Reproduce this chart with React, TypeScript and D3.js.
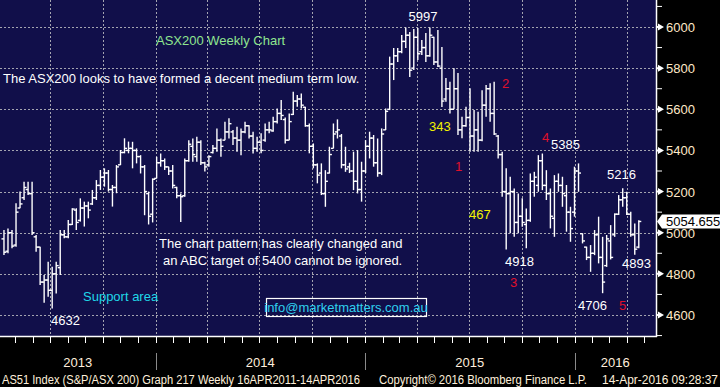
import * as d3 from "d3";

// weekly bars, week ending Friday, first week ends 5 Apr 2013
const firstWeekEnd = new Date(2013, 3, 5);

const opens = [
  4970, 4910, 5000, 4940, 5120, 5170, 5210, 5190, 4980, 4930, 4760, 4770, 4720, 4800, 4830, 4990, 4980, 5040, 5110, 5060,
  5120, 5130, 5140, 5170, 5230, 5270, 5290, 5210, 5220, 5330, 5390, 5400, 5410, 5400, 5370, 5320, 5190, 5090, 5264, 5340,
  5350, 5320, 5300, 5220, 5180, 5180, 5350, 5420, 5370, 5440, 5340, 5330, 5390, 5410, 5450, 5450, 5490, 5490, 5460, 5450,
  5490, 5520, 5470, 5410, 5440, 5450, 5500, 5495, 5540, 5580, 5550, 5450, 5575, 5640, 5650, 5610, 5520, 5420, 5330, 5290,
  5190, 5290, 5410, 5490, 5470, 5330, 5320, 5300, 5250, 5210, 5300, 5420, 5460, 5340, 5290, 5500, 5600, 5820, 5860, 5880,
  5930, 5960, 5800, 5950, 5880, 5900, 5860, 5950, 5830, 5800, 5650, 5700, 5600, 5700, 5500, 5520, 5560, 5470, 5500, 5450,
  5620, 5700, 5580, 5470, 5380, 5200, 5190, 5200, 5050, 5080, 5040, 5060, 5250, 5230, 5350, 5230, 5190, 5070, 5250, 5230,
  5180, 5100, 5100, 5300, 4995, 4930, 4880, 4900, 4990, 4880, 4840, 4960, 4990, 5090, 5160, 5170, 5090, 4990, 4930,
];
const highs = [
  5013, 5021, 5013, 5143, 5200, 5248, 5248, 5248, 4989, 4932, 4795, 4859, 4835, 4859, 5013, 5013, 5062, 5119, 5119, 5167,
  5151, 5151, 5208, 5256, 5305, 5313, 5305, 5232, 5329, 5402, 5459, 5443, 5442, 5410, 5377, 5329, 5200, 5264, 5369, 5385,
  5361, 5321, 5329, 5223, 5191, 5361, 5450, 5458, 5466, 5450, 5345, 5377, 5426, 5507, 5458, 5539, 5556, 5499, 5515, 5507,
  5539, 5523, 5491, 5466, 5483, 5531, 5539, 5564, 5604, 5645, 5560, 5580, 5685, 5669, 5677, 5612, 5531, 5434, 5337, 5337,
  5304, 5418, 5531, 5551, 5480, 5418, 5340, 5394, 5402, 5345, 5450, 5491, 5475, 5458, 5507, 5604, 5856, 5898, 5898, 5961,
  5997, 5976, 5990, 5995, 5937, 5971, 5997, 5953, 5985, 5903, 5752, 5734, 5800, 5776, 5564, 5612, 5702, 5596, 5588, 5693,
  5718, 5726, 5734, 5475, 5394, 5313, 5272, 5215, 5191, 5167, 5118, 5288, 5296, 5377, 5385, 5304, 5215, 5280, 5288, 5272,
  5232, 5126, 5321, 5337, 4997, 4932, 4940, 5013, 5078, 4980, 4989, 5037, 5094, 5183, 5216, 5199, 5102, 5045, 5061,
];
const lows = [
  4892, 4900, 4924, 4932, 5119, 5159, 5183, 4989, 4908, 4746, 4660, 4689, 4632, 4705, 4795, 4973, 4973, 5038, 5013, 5054,
  5030, 5070, 5135, 5159, 5208, 5224, 5200, 5127, 5192, 5329, 5386, 5386, 5313, 5337, 5288, 5085, 5040, 5050, 5264, 5321,
  5305, 5280, 5215, 5167, 5052, 5175, 5345, 5345, 5345, 5329, 5297, 5321, 5385, 5394, 5369, 5450, 5458, 5426, 5394, 5377,
  5483, 5458, 5385, 5394, 5386, 5442, 5483, 5491, 5531, 5548, 5434, 5450, 5572, 5612, 5604, 5515, 5386, 5313, 5240, 5183,
  5126, 5288, 5410, 5458, 5313, 5296, 5290, 5207, 5191, 5151, 5290, 5361, 5321, 5272, 5280, 5499, 5596, 5742, 5830, 5873,
  5898, 5757, 5791, 5840, 5864, 5830, 5855, 5815, 5805, 5611, 5637, 5580, 5600, 5475, 5459, 5515, 5394, 5394, 5394, 5445,
  5564, 5540, 5475, 5361, 5175, 4918, 4997, 4980, 4997, 5029, 4924, 5053, 5175, 5199, 5207, 5159, 5021, 4980, 5199, 5126,
  5005, 4956, 5078, 5199, 4948, 4867, 4810, 4891, 4851, 4706, 4834, 4870, 4980, 5086, 5126, 5086, 4980, 4893, 4925,
];
const closes = [
  4905, 5000, 4935, 5100, 5140, 5220, 5190, 5000, 4930, 4760, 4770, 4720, 4800, 4840, 4990, 4980, 5040, 5115, 5050, 5120,
  5130, 5110, 5170, 5230, 5270, 5290, 5210, 5220, 5320, 5390, 5410, 5410, 5400, 5370, 5320, 5200, 5080, 5260, 5340, 5350,
  5320, 5300, 5230, 5180, 5175, 5350, 5430, 5380, 5440, 5340, 5320, 5370, 5410, 5450, 5420, 5490, 5530, 5460, 5450, 5490,
  5520, 5470, 5410, 5440, 5400, 5500, 5500, 5540, 5580, 5570, 5450, 5540, 5640, 5650, 5620, 5520, 5420, 5330, 5280, 5190,
  5250, 5380, 5480, 5500, 5330, 5310, 5300, 5250, 5210, 5300, 5420, 5460, 5340, 5290, 5480, 5590, 5820, 5860, 5880, 5930,
  5960, 5790, 5950, 5870, 5900, 5860, 5960, 5830, 5810, 5640, 5700, 5600, 5700, 5500, 5520, 5560, 5470, 5500, 5450, 5620,
  5700, 5580, 5480, 5380, 5200, 5190, 5200, 5050, 5080, 5050, 5060, 5250, 5270, 5350, 5230, 5190, 5080, 5250, 5230, 5190,
  5100, 5020, 5300, 5290, 4960, 4880, 4900, 4990, 4880, 4760, 4970, 4880, 5090, 5160, 5170, 5090, 4990, 4920, 5054.655,
];

const yTicks = [4600, 4800, 5000, 5200, 5400, 5600, 5800, 6000];
const yMinorTicks = [4500, 4700, 4900, 5100, 5300, 5500, 5700, 5900, 6100];
const lastPrice = "5054.655";

const years = [2013, 2014, 2015, 2016];

const notes = [
  { text: "5997", x: 423, y: 21, color: "#ffffff", anchor: "middle" },
  { text: "ASX200 Weekly Chart", x: 156, y: 45, color: "#8fe68f", anchor: "start" },
  { text: "The ASX200 looks to have formed a decent medium term low.", x: 3, y: 83, color: "#ffffff", anchor: "start" },
  { text: "343", x: 429, y: 131, color: "#f2f200", anchor: "start" },
  { text: "1", x: 455, y: 171, color: "#e0102a", anchor: "start" },
  { text: "2", x: 502, y: 88, color: "#e0102a", anchor: "start" },
  { text: "4", x: 542, y: 142, color: "#e0102a", anchor: "start" },
  { text: "5385", x: 551, y: 149, color: "#ffffff", anchor: "start" },
  { text: "5216", x: 607, y: 179, color: "#ffffff", anchor: "start" },
  { text: "467", x: 469, y: 219, color: "#f2f200", anchor: "start" },
  { text: "4918", x: 505, y: 266, color: "#ffffff", anchor: "start" },
  { text: "3", x: 510, y: 287, color: "#e0102a", anchor: "start" },
  { text: "4706", x: 578, y: 310, color: "#ffffff", anchor: "start" },
  { text: "5", x: 619, y: 310, color: "#e0102a", anchor: "start" },
  { text: "4893", x: 622, y: 268, color: "#ffffff", anchor: "start" },
  { text: "4632", x: 51, y: 325, color: "#ffffff", anchor: "start" },
  { text: "Support area", x: 83, y: 301, color: "#20d8e8", anchor: "start" },
  { text: "The chart pattern has clearly changed and", x: 159, y: 248, color: "#ffffff", anchor: "start" },
  { text: "an ABC target of 5400 cannot be ignored.", x: 163, y: 265, color: "#ffffff", anchor: "start" },
];

const W = 720;
const H = 387;
const plotRight = 656;
const plotBottom = 336;
const font = "'Liberation Sans', Arial, sans-serif";

export default function App() {
  const x = d3
    .scaleTime()
    .domain([new Date(2014, 0, 1), new Date(2016, 0, 1)])
    .range([155.5, 574.5]);
  const y = d3.scaleLinear().domain([4600, 6000]).range([315, 27]);

  const start = x.invert(0);
  const end = x.invert(plotRight);
  const months = d3.timeMonth.range(start, end);
  const quarters = months.filter((d) => d.getMonth() % 3 === 0);
  const yearStarts = years.map((yr) => new Date(yr, 0, 1));

  const bars = opens.map((o, i) => {
    const weekEnd = d3.timeFriday.offset(firstWeekEnd, i);
    return { date: d3.timeDay.offset(weekEnd, 7), o, h: highs[i], l: lows[i], c: closes[i] };
  });

  const tick = 2.5;
  const lastY = y(+lastPrice);

  return (
    <svg width={W} height={H} style={{ position: "absolute", left: 0, top: 0, background: "#000" }} fontFamily={font}>
      <rect x={0} y={0} width={W} height={H} fill="#000" />
      <rect x={0} y={0} width={plotRight} height={plotBottom} fill="#110f4a" />

      {/* grid */}
      <g stroke="#a4a4b0" strokeWidth={1} strokeDasharray="2,2" shapeRendering="crispEdges">
        {yTicks.map((t) => (
          <line key={t} x1={0} x2={plotRight} y1={Math.round(y(t)) + 0.5} y2={Math.round(y(t)) + 0.5} />
        ))}
        {quarters.map((d) => (
          <line key={+d} x1={Math.round(x(d)) + 0.5} x2={Math.round(x(d)) + 0.5} y1={0} y2={plotBottom} />
        ))}
      </g>

      {/* OHLC bars */}
      <g stroke="#ffffff" strokeWidth={1.4}>
        {bars.map((b, i) => {
          const cx = x(b.date);
          if (cx < 0 || cx > plotRight) return null;
          return (
            <g key={i}>
              <line x1={cx} x2={cx} y1={y(b.h)} y2={y(b.l)} />
              <line x1={cx - tick} x2={cx} y1={y(b.o)} y2={y(b.o)} />
              <line x1={cx} x2={cx + tick} y1={y(b.c)} y2={y(b.c)} />
            </g>
          );
        })}
      </g>

      {/* annotations */}
      <g fontSize={13}>
        {notes.map((n, i) => (
          <text key={i} x={n.x} y={n.y} fill={n.color} textAnchor={n.anchor}>
            {n.text}
          </text>
        ))}
      </g>
      <rect x={266.5} y={298.5} width={160} height={18} fill="none" stroke="#ffffff" strokeWidth={1.2} />
      <text x={346} y={312} fontSize={13} fill="#2fd0ee" textAnchor="middle">
        info@marketmatters.com.au
      </text>

      {/* axes */}
      <line x1={0} x2={plotRight + 1} y1={plotBottom + 0.5} y2={plotBottom + 0.5} stroke="#fff" strokeWidth={1.5} />
      <line x1={plotRight + 0.5} x2={plotRight + 0.5} y1={0} y2={plotBottom + 1} stroke="#fff" strokeWidth={1.5} />
      {months.map((d) => (
        <line key={+d} x1={Math.round(x(d)) + 0.5} x2={Math.round(x(d)) + 0.5} y1={plotBottom} y2={plotBottom + 7} stroke="#fff" strokeWidth={1} />
      ))}
      {yMinorTicks.map((t) =>
        y(t) > 0 && y(t) < plotBottom ? (
          <line key={t} x1={plotRight} x2={plotRight + 6} y1={y(t)} y2={y(t)} stroke="#fff" strokeWidth={1} />
        ) : null
      )}
      {yTicks.map((t) => (
        <g key={t}>
          <polygon points={`${plotRight},${y(t) - 1} ${plotRight + 2},${y(t) - 1} ${plotRight + 2},${y(t) - 3.5} ${plotRight + 8},${y(t)} ${plotRight + 2},${y(t) + 3.5} ${plotRight + 2},${y(t) + 1} ${plotRight},${y(t) + 1}`} fill="#fff" />
          <text x={666} y={y(t) + 5} fontSize={13} fill="#ffe9c8">
            {t}
          </text>
        </g>
      ))}

      {/* last price */}
      <polygon
        points={`${plotRight + 1},${lastY} ${plotRight + 6},${lastY - 7} ${W},${lastY - 7} ${W},${lastY + 7} ${plotRight + 6},${lastY + 7}`}
        fill="#ffffff"
      />
      <text x={666} y={lastY + 5} fontSize={13} fill="#000">
        {lastPrice}
      </text>

      {/* year labels */}
      {yearStarts.slice(1).map((d) => (
        <line key={+d} x1={Math.round(x(d)) + 0.5} x2={Math.round(x(d)) + 0.5} y1={353} y2={370} stroke="#8a8a8a" strokeWidth={1} />
      ))}
      {years.map((yr, i) => {
        const a = Math.max(0, x(yearStarts[i]));
        const b = i < years.length - 1 ? x(yearStarts[i + 1]) : plotRight;
        return (
          <text key={yr} x={(a + Math.min(b, plotRight)) / 2} y={367} fontSize={13} fill="#ffeedd" textAnchor="middle">
            {yr}
          </text>
        );
      })}

      {/* footer */}
      <g fontSize={12} fill="#fff0dc">
        <text x={2} y={384} textLength={358} lengthAdjust="spacingAndGlyphs">
          AS51 Index (S&amp;P/ASX 200) Graph 217  Weekly 16APR2011-14APR2016
        </text>
        <text x={379} y={384} textLength={208} lengthAdjust="spacingAndGlyphs">
          Copyright© 2016 Bloomberg Finance L.P.
        </text>
        <text x={602} y={384} textLength={116} lengthAdjust="spacingAndGlyphs">
          14-Apr-2016 09:28:37
        </text>
      </g>
    </svg>
  );
}
